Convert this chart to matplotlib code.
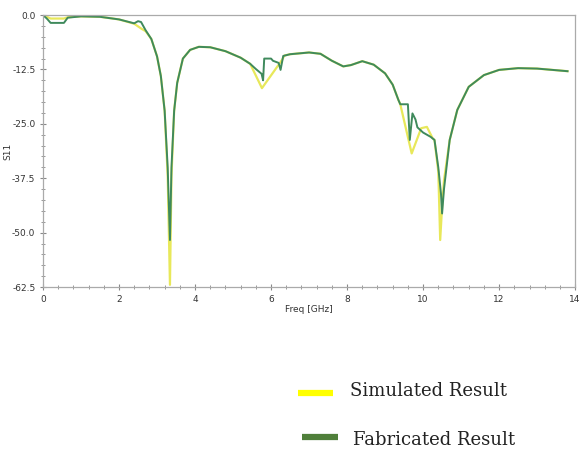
import matplotlib
matplotlib.use("Agg")
import matplotlib.pyplot as plt
from matplotlib.lines import Line2D
from matplotlib.ticker import MultipleLocator, FormatStrFormatter

plt.rcParams['axes.unicode_minus'] = False

# fabricated (measured) S11
fab_freq = [0.0, 0.1, 0.2, 0.55, 0.65, 1.0, 1.5, 2.0, 2.4, 2.5, 2.58, 2.7, 2.85, 3.0, 3.1,
            3.2, 3.28, 3.34, 3.38, 3.45, 3.53, 3.68, 3.87, 4.1, 4.4, 4.8, 5.2, 5.45, 5.6, 5.75,
            5.79, 5.82, 6.0, 6.05, 6.2, 6.25, 6.32, 6.5, 7.0, 7.3, 7.6, 7.9, 8.1, 8.4, 8.7,
            9.0, 9.2, 9.35, 9.4, 9.6, 9.65, 9.72, 9.8, 9.85, 10.0, 10.2, 10.3, 10.4, 10.47,
            10.5, 10.55, 10.7, 10.9, 11.2, 11.6, 12.0, 12.5, 13.0, 13.8]
fab_s11 = [0.0, -0.8, -1.8, -1.8, -0.6, -0.3, -0.4, -1.0, -1.9, -1.4, -1.6, -3.5, -5.5, -9.5, -14.0,
           -22.0, -35.0, -51.7, -35.0, -22.0, -15.6, -10.0, -8.0, -7.3, -7.4, -8.3, -9.8, -11.2, -12.4, -13.5,
           -15.0, -10.0, -10.0, -10.5, -11.0, -12.6, -9.4, -9.0, -8.6, -8.9, -10.5, -11.8, -11.5, -10.6, -11.4,
           -13.4, -16.0, -19.5, -20.5, -20.5, -28.7, -22.6, -24.0, -25.8, -27.0, -28.0, -28.7, -35.0, -41.0,
           -45.6, -40.0, -28.7, -21.8, -16.5, -13.8, -12.6, -12.2, -12.3, -12.9]

# simulated S11
sim_freq = [0.0, 0.1, 0.2, 0.55, 0.65, 1.0, 1.5, 2.0, 2.4, 2.6, 2.7, 2.85, 3.0, 3.1,
            3.2, 3.28, 3.34, 3.38, 3.45, 3.53, 3.68, 3.87, 4.1, 4.4, 4.8, 5.2, 5.45, 5.76,
            6.29, 6.35, 6.5, 7.0, 7.3, 7.6, 7.9, 8.1, 8.4, 8.7, 9.0, 9.2, 9.35, 9.4,
            9.7, 9.95, 10.1, 10.25, 10.3, 10.4, 10.45, 10.5, 10.55, 10.7, 10.9, 11.2,
            11.6, 12.0, 12.5, 13.0, 13.8]
sim_s11 = [0.0, -0.4, -0.8, -0.8, -0.5, -0.3, -0.4, -1.0, -2.0, -3.2, -3.7, -5.5, -9.5, -14.0,
           -22.0, -37.0, -62.0, -37.0, -22.0, -15.6, -10.0, -8.0, -7.3, -7.4, -8.3, -9.8, -11.2, -16.8,
           -10.3, -9.3, -9.0, -8.6, -8.9, -10.5, -11.8, -11.5, -10.6, -11.4, -13.4, -16.0, -19.5, -20.5,
           -31.8, -26.0, -25.7, -28.3, -28.7, -36.0, -51.7, -44.0, -38.0, -28.7, -21.8, -16.5,
           -13.8, -12.6, -12.2, -12.3, -12.9]

fig = plt.figure(figsize=(5.79, 4.51), dpi=100)
ax = fig.add_axes([0.0743, 0.3636, 0.919, 0.603])

ax.plot(sim_freq, sim_s11, color='#e8e85a', lw=1.6)
ax.plot(fab_freq, fab_s11, color='#3f8a5c', lw=1.4)

ax.set_xlim(0, 14)
ax.set_ylim(-62.5, 0)
ax.xaxis.set_major_locator(MultipleLocator(2))
ax.xaxis.set_minor_locator(MultipleLocator(0.4))
ax.yaxis.set_major_locator(MultipleLocator(12.5))
ax.yaxis.set_minor_locator(MultipleLocator(2.5))
ax.yaxis.set_major_formatter(FormatStrFormatter('%.1f'))
ax.tick_params(which='both', direction='inout', colors='#888888', labelcolor='#333333',
               labelsize=6.5, length=4)
ax.tick_params(which='minor', length=2.5)
for s in ax.spines.values():
    s.set_color('#aaaaaa')
    s.set_linewidth(0.9)

ax.set_xlabel('Freq [GHz]', fontsize=6.5, color='#333333', labelpad=1)
ax.set_ylabel('S11', fontsize=6.5, color='#333333')
ax.yaxis.set_label_coords(-0.058, 0.5)

# legend drawn below the plot
fig.add_artist(Line2D([0.515, 0.575], [0.129, 0.129], color='#ffff00', lw=4.5, solid_capstyle='butt'))
fig.text(0.604, 0.133, 'Simulated Result', fontsize=13, family='DejaVu Serif',
         color='#222222', va='center')
fig.add_artist(Line2D([0.522, 0.584], [0.031, 0.031], color='#4f7f3a', lw=4.5, solid_capstyle='butt'))
fig.text(0.61, 0.025, 'Fabricated Result', fontsize=13, family='DejaVu Serif',
         color='#222222', va='center')

fig.savefig('out.png', dpi=100)
